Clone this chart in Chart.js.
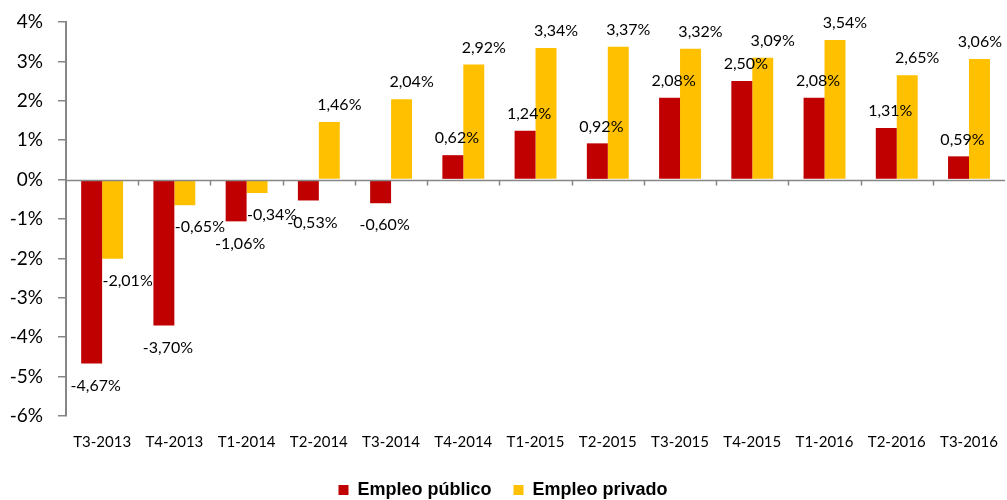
<!DOCTYPE html>
<html>
<head>
<meta charset="utf-8">
<script src="https://cdn.jsdelivr.net/npm/chart.js@4"></script>
<style>
  html, body { margin: 0; padding: 0; background: #fff; }
  #wrap { width: 1007px; height: 500px; }
</style>
</head>
<body>
<div id="wrap"><canvas id="chart"></canvas></div>
<script>
// data
const categories = ['T3-2013', 'T4-2013', 'T1-2014', 'T2-2014', 'T3-2014', 'T4-2014',
  'T1-2015', 'T2-2015', 'T3-2015', 'T4-2015', 'T1-2016', 'T2-2016', 'T3-2016']
const empleoPublico = [-4.67, -3.70, -1.06, -0.53, -0.60, 0.62, 1.24, 0.92, 2.08, 2.50, 2.08, 1.31, 0.59]
const empleoPrivado = [-2.01, -0.65, -0.34, 1.46, 2.04, 2.92, 3.34, 3.37, 3.32, 3.09, 3.54, 2.65, 3.06]

const AXIS = '#868686'
const fmt = v => v.toFixed(2).replace('.', ',') + '%'

// zero line plus the little category ticks hanging off it
const zeroAxis = {
  id: 'zeroAxis',
  afterDatasetsDraw(chart) {
    const {ctx, chartArea, scales} = chart
    const y0 = Math.round(scales.y.getPixelForValue(0)) + 0.5
    ctx.save()
    ctx.strokeStyle = AXIS
    ctx.lineWidth = 1.5
    ctx.beginPath()
    ctx.moveTo(chartArea.left, y0)
    ctx.lineTo(chartArea.right, y0)
    const step = (chartArea.right - chartArea.left) / categories.length
    for (let i = 1; i < categories.length; i++) {
      const x = Math.round(chartArea.left + i * step) + 0.5
      ctx.moveTo(x, y0)
      ctx.lineTo(x, y0 + 5)
    }
    ctx.stroke()
    ctx.restore()
  }
}

// value labels at the bar ends, Excel style (nudged right, kept on the page)
const barLabels = {
  id: 'barLabels',
  afterDatasetsDraw(chart) {
    const {ctx} = chart
    ctx.save()
    ctx.font = '16px Lato'
    ctx.fillStyle = '#000'
    ctx.textAlign = 'center'
    ctx.textBaseline = 'middle'
    chart.data.datasets.forEach((ds, di) => {
      chart.getDatasetMeta(di).data.forEach((bar, i) => {
        const v = ds.data[i]
        const shift = di === 0 ? 4 : (v < 0 ? 15 : 10)
        const text = fmt(v)
        const half = ctx.measureText(text).width / 2
        const x = Math.min(bar.x + shift, chart.width - half - 5)
        const y = v >= 0 ? bar.y - 17 : bar.y + 22
        ctx.fillText(text, x, y)
      })
    })
    ctx.restore()
  }
}

// legend sits low, right under the page edge: trim its box
const legendHeight = {
  id: 'legendHeight',
  afterInit(chart) {
    const legend = chart.legend
    const fit = legend.fit
    legend.fit = function () {
      fit.call(this)
      this.height = 41
    }
  }
}

new Chart(document.getElementById('chart'), {
  type: 'bar',
  data: {
    labels: categories,
    datasets: [
      {label: 'Empleo público', data: empleoPublico, backgroundColor: '#C00000'},
      {label: 'Empleo privado', data: empleoPrivado, backgroundColor: '#FFC000'}
    ]
  },
  options: {
    responsive: true,
    maintainAspectRatio: false,
    animation: false,
    layout: {padding: {top: 22, right: 1, left: 0, bottom: 0}},
    datasets: {bar: {categoryPercentage: 0.58, barPercentage: 1.0}},
    plugins: {
      tooltip: {enabled: false},
      legend: {
        position: 'bottom',
        labels: {
          boxWidth: 10,
          boxHeight: 10,
          padding: 22,
          color: '#000',
          font: {family: 'Liberation Sans', size: 18, weight: 'bold'}
        }
      }
    },
    scales: {
      x: {
        afterFit(scale) { scale.height = 43 },
        grid: {display: false},
        border: {display: false},
        ticks: {color: '#000', padding: 9, font: {family: 'Lato', size: 15}, maxRotation: 0}
      },
      y: {
        min: -6,
        max: 4,
        afterFit(scale) {
          scale.width = 66
          scale.paddingTop = 0
          scale.paddingBottom = 0
        },
        ticks: {
          stepSize: 1,
          color: '#000',
          padding: 15,
          font: {family: 'Lato', size: 19},
          callback: v => v + '%'
        },
        grid: {drawOnChartArea: false, color: AXIS, tickLength: 8, lineWidth: 1.5},
        border: {color: AXIS, width: 2}
      }
    }
  },
  plugins: [zeroAxis, barLabels, legendHeight]
})
</script>
</body>
</html>
